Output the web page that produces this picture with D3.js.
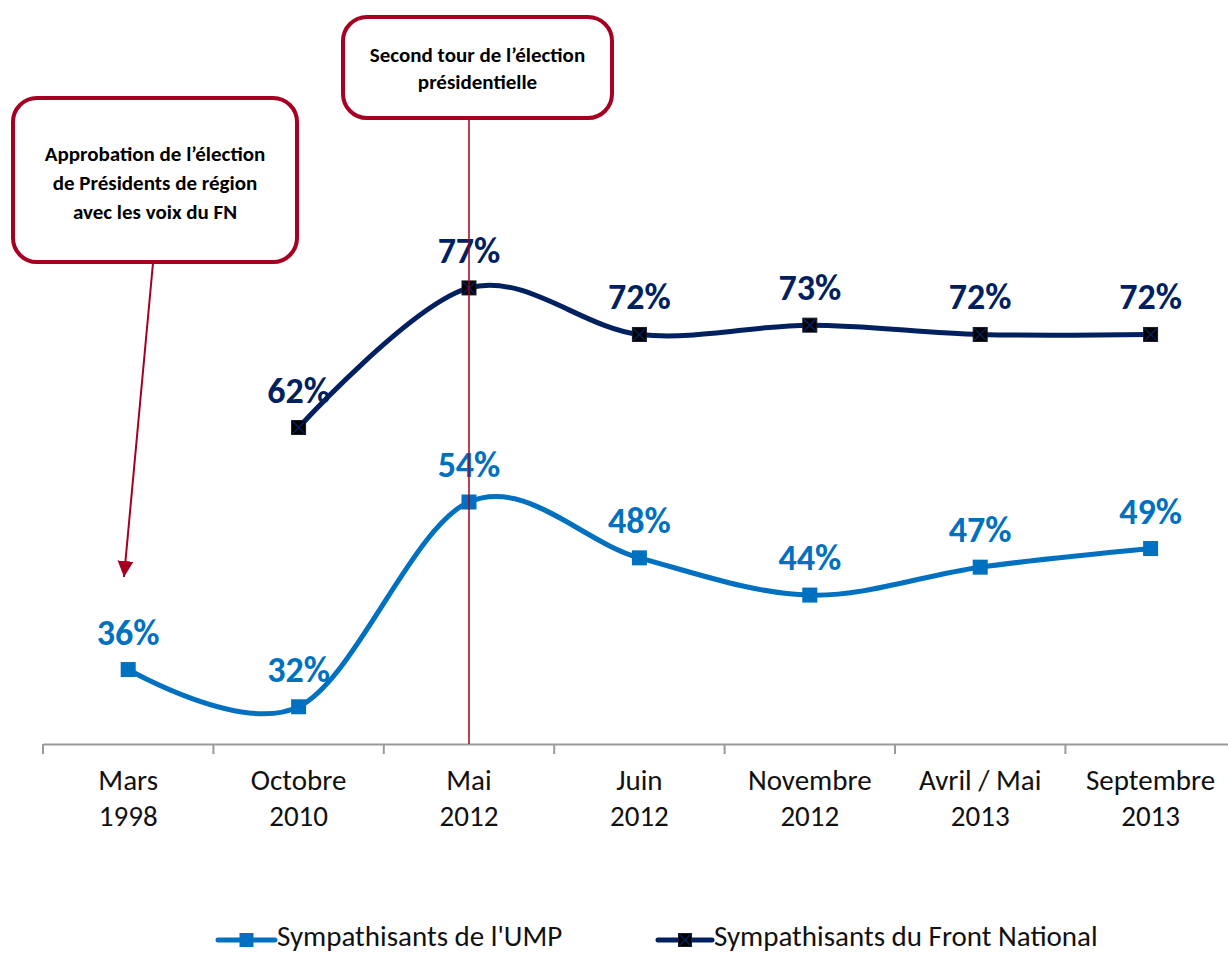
<!DOCTYPE html>
<html><head><meta charset="utf-8">
<script src="https://cdn.jsdelivr.net/npm/d3@7"></script>
<style>body{margin:0;background:#fff}svg{display:block}</style>
</head><body>
<svg id="c" width="1228" height="954"></svg>
<script>
const categories = [["Mars","1998"],["Octobre","2010"],["Mai","2012"],["Juin","2012"],["Novembre","2012"],["Avril / Mai","2013"],["Septembre","2013"]];
const umpValues = [36,32,54,48,44,47,49];
const fnValues = [null,62,77,72,73,72,72];
const seriesNames = ["Sympathisants de l'UMP","Sympathisants du Front National"];
const callout1 = ["Approbation de l’élection","de Présidents de région","avec les voix du FN"];
const callout2 = ["Second tour de l’élection","présidentielle"];

const UMP = "#0070C0", FN = "#002060", RED = "#A50021";
const FONT = "Carlito, Calibri, Lato, 'Open Sans', sans-serif";
const svg = d3.select("#c");
const idx = d3.range(categories.length);
const x = d3.scaleBand().domain(idx).range([43, 43 + 170.4*7]).padding(0);
const cx = i => x(i) + x.bandwidth()/2;
const y = d3.scaleLinear().domain([28, 80]).range([744, 260]);

// axis
const axis = svg.append("g").attr("transform","translate(0,744)")
  .call(d3.axisBottom(x).tickSize(0).tickFormat(""));
axis.select(".domain").attr("stroke","#9a9a9a").attr("stroke-width",2);
axis.selectAll(".tick").remove();
const tickPos = idx.map(i => x(i));
svg.append("g").selectAll("line").data(tickPos).join("line")
  .attr("x1",d=>d).attr("x2",d=>d).attr("y1",744).attr("y2",754)
  .attr("stroke","#9a9a9a").attr("stroke-width",2);

// category labels
const cl = svg.append("g").attr("font-family",FONT).attr("font-size",29).attr("fill","#111").attr("text-anchor","middle");
categories.forEach((c,i)=>{
  c.forEach((t,j)=>cl.append("text").attr("x",cx(i)).attr("y",790+j*36).text(t));
});

const line = d3.line().defined(d=>d.v!=null).x(d=>cx(d.i)).y(d=>y(d.v)).curve(d3.curveCardinal.tension(0));
const ump = umpValues.map((v,i)=>({i,v}));
const fn = fnValues.map((v,i)=>({i,v})).filter(d=>d.v!=null);

svg.append("path").datum(fn).attr("d",line).attr("fill","none").attr("stroke",FN).attr("stroke-width",5);
svg.append("path").datum(ump).attr("d",line).attr("fill","none").attr("stroke",UMP).attr("stroke-width",5);

// markers
function fnMarker(g, px, py, s){
  g.append("rect").attr("x",px-s/2).attr("y",py-s/2).attr("width",s).attr("height",s).attr("fill","#000").attr("stroke","#1a1a2a").attr("stroke-width",1);
  g.append("path").attr("d",`M${px-s/2+1},${py-s/2+1}L${px+s/2-1},${py+s/2-1}M${px+s/2-1},${py-s/2+1}L${px-s/2+1},${py+s/2-1}`).attr("stroke",FN).attr("stroke-width",1.5);
}
function umpMarker(g, px, py, s){
  g.append("rect").attr("x",px-s/2).attr("y",py-s/2).attr("width",s).attr("height",s).attr("fill",UMP);
}
const mg = svg.append("g");
fn.forEach(d=>fnMarker(mg, cx(d.i), y(d.v), 14));
ump.forEach(d=>umpMarker(mg, cx(d.i), y(d.v), 15));

// value labels
const lg = svg.append("g").attr("font-family",FONT).attr("font-size",36).attr("font-weight","bold").attr("text-anchor","middle");
fn.forEach(d=>lg.append("text").attr("x",cx(d.i)).attr("y",y(d.v)-25).attr("fill",FN).text(d.v+"%"));
ump.forEach(d=>lg.append("text").attr("x",cx(d.i)).attr("y",y(d.v)-25).attr("fill",UMP).text(d.v+"%"));

// vertical line at Mai 2012
svg.append("line").attr("x1",cx(2)).attr("x2",cx(2)).attr("y1",118).attr("y2",744).attr("stroke",RED).attr("stroke-width",1.5);

// callouts
function callout(x0,y0,w,h,lines,ty,dy){
  svg.append("rect").attr("x",x0).attr("y",y0).attr("width",w).attr("height",h).attr("rx",24).attr("ry",24)
    .attr("fill","#fff").attr("stroke",RED).attr("stroke-width",4);
  const t = svg.append("g").attr("font-family",FONT).attr("font-size",21).attr("font-weight","bold").attr("text-anchor","middle").attr("fill","#000");
  lines.forEach((s,j)=>t.append("text").attr("x",x0+w/2).attr("y",ty+j*dy).text(s));
}
callout(13,98,284,164,callout1,161,29);
callout(343,17,269,101,callout2,62,27);

// arrow
svg.append("defs").append("marker").attr("id","ah").attr("viewBox","0 0 10 10").attr("refX",10).attr("refY",5)
  .attr("markerWidth",16).attr("markerHeight",16).attr("markerUnits","userSpaceOnUse").attr("orient","auto")
  .append("path").attr("d","M0,0L10,5L0,10Z").attr("fill",RED);
svg.append("line").attr("x1",153).attr("y1",263).attr("x2",124).attr("y2",577).attr("stroke",RED).attr("stroke-width",2)
  .attr("marker-end","url(#ah)");

// legend
const leg = svg.append("g").attr("font-family",FONT).attr("font-size",29).attr("fill","#111");
const legItems = [{x0:218,x1:275,c:UMP,t:seriesNames[0],m:"ump"},{x0:658,x1:712,c:FN,t:seriesNames[1],m:"fn"}];
legItems.forEach(d=>{
  leg.append("line").attr("x1",d.x0).attr("x2",d.x1).attr("y1",940).attr("y2",940).attr("stroke",d.c).attr("stroke-width",5).attr("stroke-linecap","round");
  if(d.m==="ump") umpMarker(leg,(d.x0+d.x1)/2,940,14); else fnMarker(leg,(d.x0+d.x1)/2,940,13);
  leg.append("text").attr("x",d.x1+2).attr("y",946).text(d.t);
});
</script>
</body></html>
